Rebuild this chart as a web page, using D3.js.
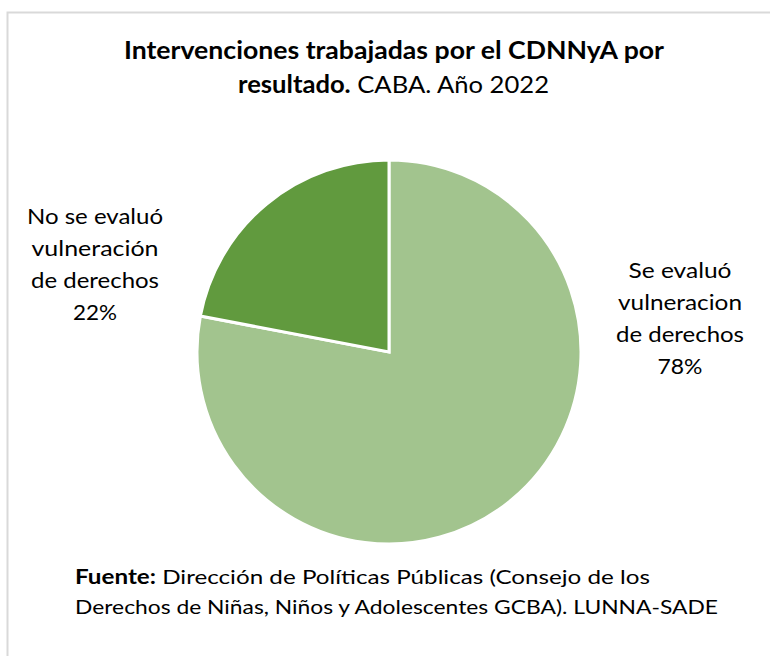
<!DOCTYPE html>
<html lang="es">
<head>
    <meta charset="UTF-8">
    <title>Intervenciones trabajadas por el CDNNyA por resultado</title>
    <script src="https://d3js.org/d3.v7.min.js"></script>
    <style>
        body { margin: 0; background: #fff; }
        svg text { font-family: Lato, "Open Sans", sans-serif; fill: #000; }
    </style>
</head>
<body>
    <script>
        // datos
        const categorias = ["Se evaluó vulneracion de derechos", "No se evaluó vulneración de derechos"];
        const valores = [78, 22];
        const colores = ["#a2c48e", "#619a3e"];
        const etiquetas = [
            ["Se evaluó", "vulneracion", "de derechos", "78%"],
            ["No se evaluó", "vulneración", "de derechos", "22%"]
        ];

        const width = 770, height = 656;
        const cx = 389, cy = 352, radius = 192;

        const svg = d3.select("body").append("svg")
            .attr("width", width)
            .attr("height", height);

        // marco
        svg.append("rect")
            .attr("x", 7.5).attr("y", 12.5)
            .attr("width", 800).attr("height", 700)
            .attr("fill", "none")
            .attr("stroke", "#d9d9d9")
            .attr("stroke-width", 2);

        // título
        svg.append("text")
            .attr("x", 394).attr("y", 59)
            .attr("text-anchor", "middle")
            .style("font-size", "24px").style("font-weight", "bold")
            .attr("textLength", 540).attr("lengthAdjust", "spacingAndGlyphs")
            .text("Intervenciones trabajadas por el CDNNyA por");

        const t2 = svg.append("text")
            .attr("x", 238).attr("y", 93)
            .style("font-size", "24px")
            .attr("textLength", 311).attr("lengthAdjust", "spacingAndGlyphs");
        t2.append("tspan").style("font-weight", "bold").text("resultado.");
        t2.append("tspan").text(" CABA. Año 2022");

        // torta
        const pie = d3.pie().sort(null).value(d => d);
        const arc = d3.arc().innerRadius(0).outerRadius(radius);

        const g = svg.append("g").attr("transform", `translate(${cx},${cy})`);
        g.selectAll("path")
            .data(pie(valores))
            .join("path")
            .attr("d", arc)
            .attr("fill", (d, i) => colores[i])
            .attr("stroke", "#fff")
            .attr("stroke-width", 3);

        // etiquetas de datos
        const posEtiquetas = [{x: 680, y: 278}, {x: 95, y: 224}];
        const anchos = [[103, 124, 128, 45], [136, 127, 128, 44]];
        etiquetas.forEach((lineas, i) => {
            lineas.forEach((l, j) => {
                svg.append("text")
                    .attr("x", posEtiquetas[i].x - anchos[i][j] / 2)
                    .attr("y", posEtiquetas[i].y + j * 32)
                    .style("font-size", "21px")
                    .attr("textLength", anchos[i][j])
                    .attr("lengthAdjust", "spacingAndGlyphs")
                    .text(l);
            });
        });

        // fuente
        const f1 = svg.append("text")
            .attr("x", 75).attr("y", 584)
            .style("font-size", "20px")
            .attr("textLength", 575).attr("lengthAdjust", "spacingAndGlyphs");
        f1.append("tspan").style("font-weight", "bold").text("Fuente:");
        f1.append("tspan").text(" Dirección de Políticas Públicas (Consejo de los");

        svg.append("text")
            .attr("x", 75).attr("y", 614)
            .style("font-size", "20px")
            .attr("textLength", 643).attr("lengthAdjust", "spacingAndGlyphs")
            .text("Derechos de Niñas, Niños y Adolescentes  GCBA). LUNNA-SADE");
    </script>
</body>
</html>
